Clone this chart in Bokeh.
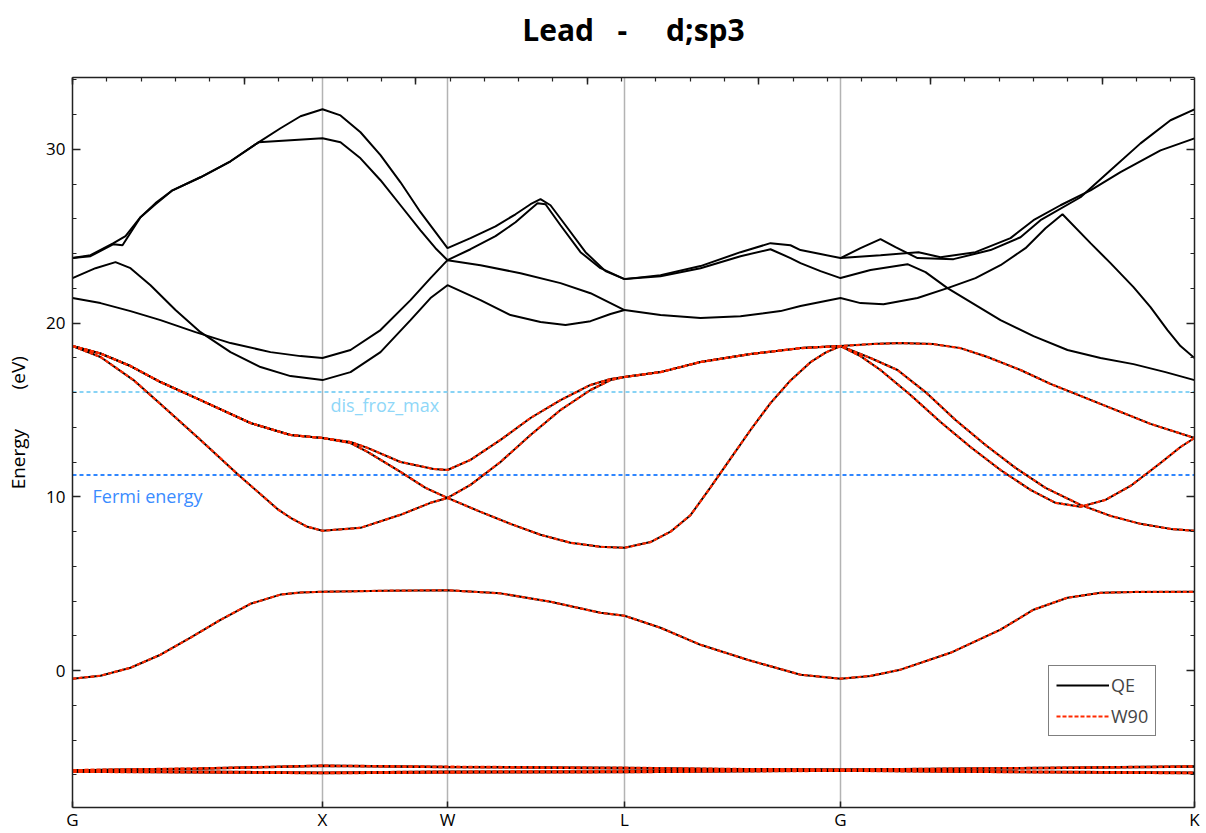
from bokeh.plotting import figure
from bokeh.models import (Range1d, LinearAxis, FixedTicker, Span, Label, Legend,
                          LegendItem, CustomJSTickFormatter, Title)
from bokeh.embed import file_html
from bokeh.resources import INLINE

# ---------------- data ----------------
sym_labels = ["G", "X", "W", "L", "G", "K"]
sym_k = [0.0, 1.0, 1.5, 2.208, 3.072, 4.488]
fermi_energy = 11.26
dis_froz_max = 16.03
y_ticks = [0, 10, 20, 30]

# s-like band (QE + W90)
k_s = [0, .112, .232, .352, .472, .592, .712, .832, .912, 1.0, 1.25, 1.5, 1.712, 1.912, 2.112, 2.208,
       2.352, 2.512, 2.7, 2.912, 3.072, 3.192, 3.312, 3.512, 3.712, 3.844, 3.98, 4.112, 4.244, 4.488]
e_s = [-0.46, -0.29, 0.17, 0.92, 1.90, 2.93, 3.85, 4.38, 4.50, 4.54, 4.60, 4.63, 4.45, 3.97, 3.33, 3.16,
       2.47, 1.49, 0.63, -0.23, -0.46, -0.30, 0.06, 1.03, 2.36, 3.51, 4.20, 4.48, 4.53, 4.54]

# p-like bands (QE + W90)
k_p1 = [0, .112, .244, .352, .512, .664, .82, .872, .936, 1.0, 1.152, 1.312, 1.432, 1.5,
        1.632, 1.752, 1.872, 1.992, 2.112, 2.208,
        2.312, 2.392, 2.472, 2.552, 2.632, 2.712, 2.792, 2.872, 2.952, 3.012, 3.072,
        3.192, 3.3, 3.412, 3.532, 3.652, 3.772, 3.892, 4.032, 4.152, 4.272, 4.392, 4.488]
e_p1 = [18.68, 18.05, 16.72, 15.34, 13.28, 11.26, 9.30, 8.80, 8.30, 8.05, 8.22, 8.97, 9.66, 9.94,
        9.14, 8.45, 7.82, 7.36, 7.13, 7.07,
        7.40, 8.00, 8.95, 10.55, 12.20, 13.85, 15.40, 16.70, 17.75, 18.30, 18.68,
        17.99, 17.30, 16.03, 14.43, 12.99, 11.67, 10.52, 9.54, 8.91, 8.45, 8.16, 8.05]

k_p2 = [0, .112, .232, .352, .512, .712, .872, 1.0, 1.112, 1.18, 1.312, 1.412, 1.5,
        1.592, 1.712, 1.832, 1.952, 2.072, 2.152, 2.208, 2.352, 2.512, 2.712, 2.912, 3.072,
        3.152, 3.232, 3.352, 3.472, 3.592, 3.712, 3.832, 3.932, 4.032, 4.132, 4.232, 4.352, 4.432, 4.488]
e_p2 = [18.68, 18.25, 17.53, 16.61, 15.57, 14.25, 13.56, 13.39, 13.10, 12.59, 11.44, 10.52, 9.94,
        10.69, 12.01, 13.56, 15.00, 16.15, 16.72, 16.90, 17.18, 17.76, 18.22, 18.56, 18.68,
        18.10, 17.30, 15.86, 14.31, 12.87, 11.55, 10.40, 9.66, 9.43, 9.83, 10.63, 11.95, 12.87, 13.39]

k_p3 = [0, .112, .232, .352, .512, .712, .872, 1.0, 1.112, 1.18, 1.312, 1.444, 1.5,
        1.592, 1.712, 1.832, 1.952, 2.072, 2.152, 2.208, 2.352, 2.512, 2.712, 2.912, 3.072,
        3.192, 3.312, 3.444, 3.552, 3.66, 3.792, 3.912, 4.112, 4.312, 4.488]
e_p3 = [18.68, 18.25, 17.53, 16.61, 15.57, 14.25, 13.56, 13.39, 13.16, 12.82, 12.01, 11.61, 11.55,
        12.13, 13.28, 14.54, 15.57, 16.44, 16.78, 16.90, 17.18, 17.76, 18.22, 18.56, 18.68,
        18.79, 18.85, 18.79, 18.56, 18.05, 17.30, 16.50, 15.35, 14.20, 13.39]

# d-like bands (QE + W90)
k_d = [0, 0.5, 1.0, 1.5, 2.208, 2.64, 3.072, 3.78, 4.488]
e_d1 = [-5.72, -5.62, -5.46, -5.52, -5.58, -5.65, -5.69, -5.60, -5.50]
e_d2 = [-5.72, -5.64, -5.48, -5.55, -5.62, -5.67, -5.69, -5.62, -5.52]
e_d3 = [-5.78, -5.80, -5.86, -5.80, -5.78, -5.74, -5.72, -5.80, -5.86]
e_d4 = [-5.80, -5.83, -5.88, -5.84, -5.80, -5.76, -5.74, -5.82, -5.88]
e_d5 = [-5.82, -5.85, -5.90, -5.86, -5.84, -5.80, -5.76, -5.84, -5.90]

# upper bands (QE only)
k_u1 = [0, .072, .164, .212, .272, .332, .4, .512, .632, .744, .832, .912, 1.0,
        1.072, 1.152, 1.232, 1.312, 1.392, 1.452, 1.5,
        1.592, 1.692, 1.772, 1.832, 1.872, 1.912, 1.972, 2.052, 2.132, 2.208,
        2.352, 2.512, 2.672, 2.792, 2.872, 2.912, 2.992, 3.072,
        3.152, 3.232, 3.292, 3.38, 3.524, 3.672, 3.792, 3.872, 4.032, 4.152, 4.272, 4.392, 4.488]
e_u1 = [23.74, 23.91, 24.60, 25.00, 26.09, 26.90, 27.64, 28.39, 29.31, 30.40, 31.21, 31.90, 32.30,
        31.95, 30.98, 29.66, 28.10, 26.38, 25.23, 24.31,
        24.89, 25.57, 26.26, 26.84, 27.13, 26.78, 25.63, 24.08, 22.99, 22.53,
        22.76, 23.28, 24.08, 24.60, 24.48, 24.20, 23.97, 23.74,
        24.31, 24.83, 24.37, 23.74, 23.68, 24.20, 24.94, 25.92, 27.24, 28.79, 30.34, 31.67, 32.30]

k_u2 = [0, .072, .164, .2, .272, .332, .4, .512, .632, .744, .872, 1.0,
        1.072, 1.152, 1.232, 1.312, 1.392, 1.452, 1.5,
        1.592, 1.692, 1.772, 1.832, 1.86, 1.892, 1.952, 2.032, 2.112, 2.208,
        2.352, 2.512, 2.672, 2.792, 2.872, 2.912, 2.992, 3.072,
        3.192, 3.34, 3.412, 3.5, 3.712, 3.844, 3.98, 4.112, 4.244, 4.372, 4.488]
e_u2 = [23.74, 23.85, 24.54, 24.48, 26.09, 26.84, 27.64, 28.39, 29.31, 30.40, 30.52, 30.63,
        30.40, 29.48, 28.22, 26.78, 25.34, 24.31, 23.62,
        24.25, 25.00, 25.80, 26.55, 26.90, 26.84, 25.63, 24.08, 23.16, 22.53,
        22.70, 23.16, 23.85, 24.25, 23.74, 23.45, 22.99, 22.59,
        23.05, 23.39, 22.93, 22.01, 20.17, 19.25, 18.45, 17.99, 17.64, 17.18, 16.72]

k_u3 = [0, .112, .232, .352, .492, .632, .792, .912, 1.0,
        1.112, 1.232, 1.352, 1.432, 1.5,
        1.632, 1.792, 1.952, 2.072, 2.152, 2.208,
        2.352, 2.512, 2.672, 2.832, 2.912, 2.992, 3.072,
        3.152, 3.244, 3.38, 3.5, 3.612, 3.712, 3.812, 3.892, 3.96, 4.072, 4.152, 4.244, 4.312, 4.38, 4.432, 4.488]
e_u3 = [21.44, 21.15, 20.69, 20.17, 19.48, 18.85, 18.33, 18.10, 17.99,
        18.45, 19.60, 21.32, 22.59, 23.62,
        23.33, 22.87, 22.30, 21.72, 21.15, 20.75,
        20.46, 20.29, 20.40, 20.69, 20.98, 21.21, 21.44,
        21.15, 21.09, 21.44, 22.01, 22.59, 23.33, 24.31, 25.46, 26.26, 24.60, 23.45, 22.07, 20.92, 19.60, 18.68, 17.99]

k_u4 = [0, .092, .172, .232, .312, .412, .512, .632, .752, .872, 1.0,
        1.112, 1.232, 1.352, 1.432, 1.5,
        1.632, 1.752, 1.872, 1.972, 2.072, 2.152, 2.208]
e_u4 = [22.59, 23.16, 23.51, 23.16, 22.18, 20.75, 19.48, 18.33, 17.47, 16.95, 16.72,
        17.18, 18.33, 20.17, 21.44, 22.18,
        21.32, 20.46, 20.06, 19.89, 20.11, 20.52, 20.75]

k_u5 = [3.072, 3.232, 3.384, 3.472, 3.612, 3.752, 3.844, 3.952, 4.072, 4.192, 4.352, 4.488]
e_u5 = [23.74, 23.91, 24.08, 23.79, 24.08, 24.89, 25.92, 26.78, 27.64, 28.68, 29.94, 30.63]

qe_bands = [(k_u1, e_u1), (k_u2, e_u2), (k_u3, e_u3), (k_u4, e_u4), (k_u5, e_u5),
            (k_s, e_s), (k_p1, e_p1), (k_p2, e_p2), (k_p3, e_p3),
            (k_d, e_d1), (k_d, e_d2), (k_d, e_d3), (k_d, e_d4), (k_d, e_d5)]
w90_bands = [(k_s, e_s), (k_p1, e_p1), (k_p2, e_p2), (k_p3, e_p3),
             (k_d, e_d1), (k_d, e_d2), (k_d, e_d3), (k_d, e_d4), (k_d, e_d5)]

# ---------------- figure ----------------
FONT = "Open Sans"
NB = "\u00a0"
p = figure(width=1206, height=833, x_range=Range1d(0, 4.488), y_range=Range1d(-7.87, 34.13),
           output_backend="svg", toolbar_location=None,
           x_axis_location=None, y_axis_location=None,
           min_border_left=72, min_border_right=12, min_border_top=77, min_border_bottom=20)
p.outline_line_color = None
p.background_fill_color = "white"
p.border_fill_color = "white"
p.grid.grid_line_color = None

def style_axis(ax, ticker, tin=8):
    ax.ticker = ticker
    ax.axis_line_color = "#222222"
    ax.axis_line_width = 1.5
    ax.major_tick_line_color = "#222222"
    ax.minor_tick_line_color = "#222222"
    ax.major_tick_line_width = 1.5
    ax.minor_tick_line_width = 1.2
    ax.major_tick_in = tin
    ax.major_tick_out = 0
    ax.minor_tick_in = 4
    ax.minor_tick_out = 0
    ax.major_label_text_font = FONT
    ax.major_label_text_font_size = "17px"
    ax.major_label_text_color = "black"

empty = CustomJSTickFormatter(code="return '';")

y_minor = [v for v in range(-6, 35, 2) if v % 10 != 0]
left = LinearAxis()
style_axis(left, FixedTicker(ticks=y_ticks, minor_ticks=y_minor))
left.axis_label = NB * 8 + "Energy " + NB * 6 + " (eV)"
left.axis_label_text_font = FONT
left.axis_label_text_font_size = "19px"
left.axis_label_text_font_style = "normal"
left.axis_label_text_color = "black"
left.axis_label_standoff = 12
left.major_label_standoff = 7
p.add_layout(left, "left")

right = LinearAxis(formatter=empty)
style_axis(right, FixedTicker(ticks=y_ticks, minor_ticks=y_minor))
right.major_label_standoff = 0
p.add_layout(right, "right")

bottom = LinearAxis()
style_axis(bottom, FixedTicker(ticks=sym_k, minor_ticks=[]), tin=6)
bottom.major_label_overrides = {k: lab for k, lab in zip(sym_k, sym_labels)}
bottom.major_label_standoff = 0
p.add_layout(bottom, "below")

top_major = [i * 0.6864 for i in range(7)]
top_minor = [i * 0.13728 for i in range(33)]
top = LinearAxis(formatter=empty)
style_axis(top, FixedTicker(ticks=top_major, minor_ticks=top_minor), tin=7)
top.major_label_standoff = 0
p.add_layout(top, "above")

# spacer between the top axis and the title
p.add_layout(Title(text=NB, text_font_size="1px", standoff=20), "above")

p.title.text = "Lead" + NB * 2 + " -" + NB * 4 + " d;sp3"
p.title.align = "center"
p.title.text_font = FONT
p.title.text_font_size = "30px"
p.title.text_font_style = "bold"
p.title.text_color = "black"
p.title.standoff = 10

# symmetry lines
for k in sym_k[1:-1]:
    p.add_layout(Span(location=k, dimension="height", line_color="#b3b3b3",
                      line_width=1.5, level="underlay"))

# reference energies
p.add_layout(Span(location=fermi_energy, dimension="width", line_color="#2f86ff",
                  line_width=2, line_dash="4 3", level="underlay"))
p.add_layout(Span(location=dis_froz_max, dimension="width", line_color="#88d3f5",
                  line_width=2, line_dash="4 3", level="underlay"))
p.add_layout(Label(x=0.08, y=10.06, text="Fermi energy", text_color="#3a8cff",
                   text_font=FONT, text_font_size="18px", text_baseline="middle"))
p.add_layout(Label(x=1.032, y=15.29, text="dis_froz_max", text_color="#8fd7f8",
                   text_font=FONT, text_font_size="18px", text_baseline="middle"))

qe_r = []
for kk, ee in qe_bands:
    qe_r.append(p.line(kk, ee, line_color="black", line_width=2))
w_r = []
for kk, ee in w90_bands:
    w_r.append(p.line(kk, ee, line_color="#ff2a00", line_width=2.2, line_dash="4 2"))

legend = Legend(items=[LegendItem(label="QE", renderers=[qe_r[0]]),
                       LegendItem(label="W90", renderers=[w_r[0]])],
                location=(976, 71), orientation="vertical",
                border_line_color="black", border_line_width=1,
                background_fill_color="white", background_fill_alpha=1,
                glyph_width=53, glyph_height=20, label_standoff=2,
                padding=7, spacing=7, margin=0, label_height=20,
                label_text_font=FONT, label_text_font_size="18px")
p.add_layout(legend)

open("out.html", "w").write(file_html(p, INLINE))
